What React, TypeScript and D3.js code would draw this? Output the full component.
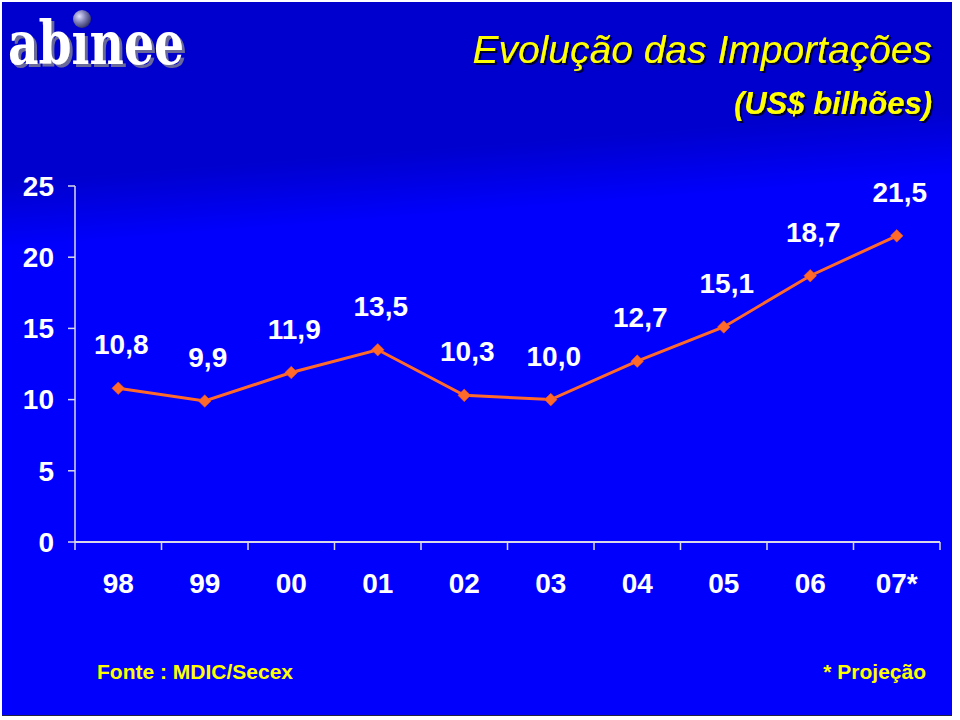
import React from "react";
import * as d3 from "d3";

const categories = ["98", "99", "00", "01", "02", "03", "04", "05", "06", "07*"];
const values = [10.8, 9.9, 11.9, 13.5, 10.3, 10.0, 12.7, 15.1, 18.7, 21.5];
const valueLabels = ["10,8", "9,9", "11,9", "13,5", "10,3", "10,0", "12,7", "15,1", "18,7", "21,5"];
const yTicks = [0, 5, 10, 15, 20, 25];

const W = 960;
const H = 720;
const FONT = "'Liberation Sans', Arial, Helvetica, sans-serif";

export default function App() {
  const x = d3.scaleBand<string>().domain(categories).range([75, 940]).padding(0);
  const y = d3.scaleLinear().domain([0, 25]).range([542, 186]);
  const cx = (c: string) => (x(c) as number) + x.bandwidth() / 2;

  const line = d3
    .line<number>()
    .x((_, i) => cx(categories[i]))
    .y((d) => y(d));

  const diamond = d3.symbol().type(d3.symbolSquare).size(80)() as string;
  const boundaries = [...categories.map((c) => x(c) as number), x.range()[1]];
  const axisColor = "#D8D8E8";

  return (
    <svg
      width={W}
      height={H}
      style={{ position: "absolute", left: 0, top: 0, display: "block" }}
      xmlns="http://www.w3.org/2000/svg"
    >
      <defs>
        <linearGradient id="bg" gradientUnits="userSpaceOnUse" x1="480" y1="145" x2="485" y2="210">
          <stop offset="0" stopColor="#0000CE" />
          <stop offset="1" stopColor="#0000FC" />
        </linearGradient>
        <radialGradient id="ball" cx="0.35" cy="0.35" r="0.7">
          <stop offset="0" stopColor="#E0E0FF" />
          <stop offset="0.5" stopColor="#8080B8" />
          <stop offset="1" stopColor="#303060" />
        </radialGradient>
        <filter id="shadow" x="-5%" y="-20%" width="110%" height="140%">
          <feDropShadow dx="2" dy="2" stdDeviation="0.4" floodColor="#000033" floodOpacity="1" />
        </filter>
        <filter id="logoShadow" x="-5%" y="-20%" width="115%" height="140%">
          <feDropShadow dx="3" dy="3" stdDeviation="0.5" floodColor="#6A6A9A" floodOpacity="1" />
        </filter>
      </defs>
      <rect x={0} y={0} width={W} height={H} fill="#FFFFFF" />
      <rect x={2} y={2} width={950} height={713} fill="url(#bg)" />
      <line x1={2} y1={715.5} x2={952} y2={715.5} stroke="#222244" strokeWidth={1} />

      {/* logo */}
      <g filter="url(#logoShadow)">
        <text
          x={8}
          y={64}
          fontFamily="'DejaVu Serif', serif"
          fontWeight="bold"
          fontSize={60}
          textLength={176}
          lengthAdjust="spacingAndGlyphs"
          fill="#FFFFFF"
        >
          abınee
        </text>
      </g>
      <circle cx={82} cy={19} r={9} fill="url(#ball)" />

      {/* title */}
      <g fontFamily={FONT} textAnchor="end" fill="#FFFF00" filter="url(#shadow)">
        <text x={932} y={63} fontSize={39} fontStyle="italic">
          Evolução das Importações
        </text>
        <text x={932} y={114} fontSize={31} fontStyle="italic" fontWeight="bold">
          (US$ bilhões)
        </text>
      </g>

      {/* y axis */}
      <g fontFamily={FONT} fontWeight="bold" fontSize={28} fill="#FFFFFF">
        <line x1={75} y1={y(25)} x2={75} y2={y(0)} stroke={axisColor} strokeWidth={1.5} />
        {yTicks.map((t) => (
          <g key={t}>
            <line x1={68} x2={75} y1={y(t)} y2={y(t)} stroke={axisColor} strokeWidth={1.5} />
            <text x={54} y={y(t)} dy="0.35em" textAnchor="end">
              {t}
            </text>
          </g>
        ))}
      </g>

      {/* x axis */}
      <g fontFamily={FONT} fontWeight="bold" fontSize={28} fill="#FFFFFF">
        <line x1={75} y1={y(0)} x2={940} y2={y(0)} stroke={axisColor} strokeWidth={2} />
        {boundaries.map((b, i) => (
          <line key={i} x1={b} x2={b} y1={y(0)} y2={y(0) + 8} stroke={axisColor} strokeWidth={1.5} />
        ))}
        {categories.map((c) => (
          <text key={c} x={cx(c)} y={593} textAnchor="middle">
            {c}
          </text>
        ))}
      </g>

      {/* series */}
      <path d={line(values) as string} fill="none" stroke="#FF6A2A" strokeWidth={3} />
      {values.map((v, i) => (
        <path
          key={i}
          d={diamond}
          transform={`translate(${cx(categories[i])},${y(v)}) rotate(45)`}
          fill="#FF6A2A"
          stroke="#E85818"
          strokeWidth={0.5}
        />
      ))}
      <g fontFamily={FONT} fontWeight="bold" fontSize={28} fill="#FFFFFF" textAnchor="middle">
        {values.map((v, i) => (
          <text key={i} x={cx(categories[i]) + 3} y={y(v) - 34}>
            {valueLabels[i]}
          </text>
        ))}
      </g>

      {/* footer */}
      <g fontFamily={FONT} fontWeight="bold" fontSize={21} fill="#FFFF00">
        <text x={97} y={679}>Fonte : MDIC/Secex</text>
        <text x={926} y={679} textAnchor="end">
          * Projeção
        </text>
      </g>
    </svg>
  );
}
